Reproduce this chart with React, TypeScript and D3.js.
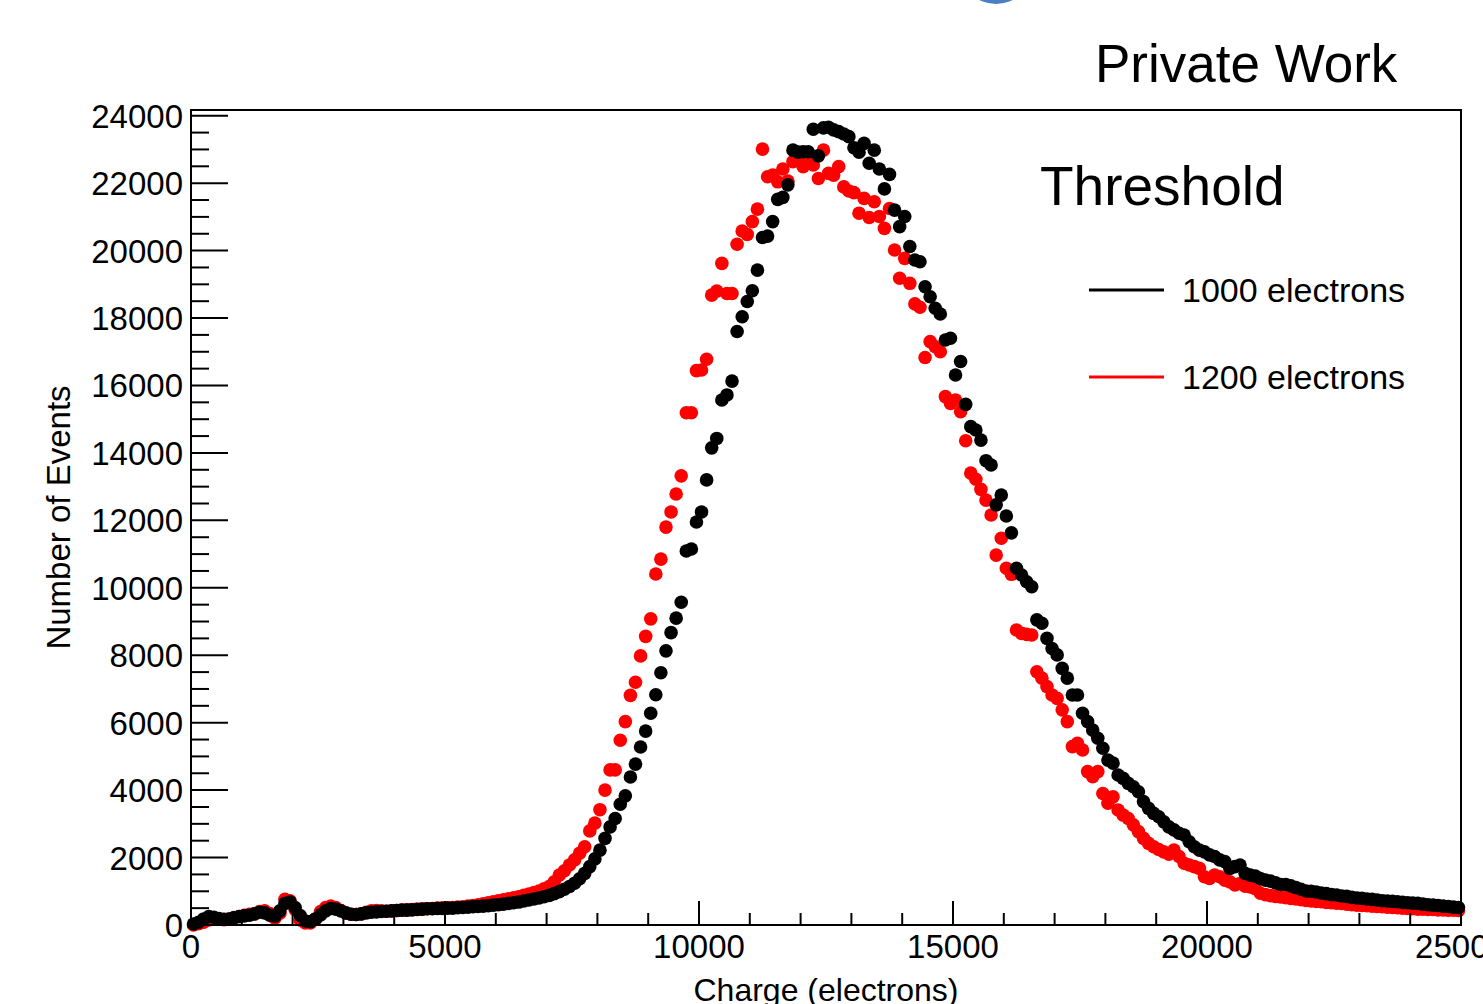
import React from "react";
import * as d3 from "d3";

const binWidth = 100;
const xTickValues = [0, 5000, 10000, 15000, 20000, 25000];
const yTickValues = [0, 2000, 4000, 6000, 8000, 10000, 12000, 14000, 16000, 18000, 20000, 22000, 24000];
const seriesNames = ["1000 electrons", "1200 electrons"];
const seriesColors = ["#000000", "#ff0000"];

const thr1000 = [
  30, 80, 180, 250, 230, 190, 170, 180, 220, 250,
  270, 290, 330, 380, 360, 290, 260, 420, 640, 680,
  520, 280, 120, 100, 180, 300, 420, 490, 470, 420,
  360, 320, 310, 330, 360, 380, 390, 400, 410, 420,
  430, 440, 440, 450, 460, 470, 480, 480, 490, 490,
  500, 500, 510, 520, 530, 540, 550, 560, 570, 590,
  600, 620, 640, 660, 680, 710, 740, 770, 800, 840,
  880, 930, 990, 1060, 1140, 1240, 1370, 1530, 1730, 1960,
  2220, 2570, 2910, 3160, 3580, 3830, 4390, 4770, 5280, 5750,
  6280, 6830, 7480, 8130, 8670, 9100, 9570, 11090, 11150, 11950,
  12250, 13200, 14150, 14430, 15570, 15720, 16130, 17600, 18040, 18490,
  18810, 19420, 20390, 20430, 20860, 21520, 21580, 21950, 22980, 22920,
  22930, 22930, 23600, 22810, 23640, 23660, 23580, 23530, 23460, 23380,
  23050, 22920, 23180, 22590, 22980, 22420, 21830, 22260, 21200, 20710,
  21010, 20120, 19720, 19670, 18930, 18630, 18290, 18120, 17350, 17400,
  16310, 16710, 15440, 14780, 14680, 14380, 13770, 13640, 12460, 12750,
  12130, 11630, 10580, 10380, 10180, 10030, 9050, 8950, 8500, 8200,
  8010, 7610, 7320, 6820, 6820, 6280, 6030, 5780, 5540, 5240,
  4890, 4800, 4450, 4350, 4200, 4100, 3950, 3660, 3460, 3310,
  3210, 3060, 2910, 2820, 2720, 2670, 2470, 2320, 2220, 2170,
  2080, 2030, 1930, 1880, 1680, 1730, 1780, 1530, 1480, 1450,
  1380, 1330, 1300, 1250, 1200, 1200, 1160, 1110, 1060, 1010,
  1000, 980, 950, 930, 900, 890, 860, 850, 820, 800,
  790, 770, 760, 740, 720, 710, 700, 690, 670, 660,
  650, 640, 620, 600, 590, 580, 560, 550, 530, 520,
];

const thr1200 = [
  0, 40, 80, 150, 180, 170, 160, 180, 210, 250,
  290, 320, 330, 400, 420, 340, 200, 350, 760, 720,
  460, 150, 60, 60, 180, 400, 520, 560, 520, 430,
  350, 320, 310, 330, 380, 420, 430, 420, 410, 420,
  430, 440, 450, 460, 470, 470, 480, 490, 500, 510,
  510, 520, 530, 540, 560, 580, 600, 630, 660, 690,
  720, 750, 780, 810, 840, 880, 920, 960, 1010, 1070,
  1140, 1280, 1480, 1610, 1780, 1930, 2130, 2320, 2790, 3020,
  3420, 4000, 4600, 4600, 5480, 6030, 6810, 7200, 7980, 8560,
  9080, 10410, 10850, 11800, 12250, 12780, 13320, 15190, 15190, 16440,
  16460, 16780, 18680, 18800, 19620, 18730, 18730, 20190, 20580, 20480,
  20860, 21230, 23010, 22190, 22240, 22040, 22420, 22060, 22640, 22690,
  22490, 22700, 22540, 22140, 22980, 22290, 22240, 22490, 21890, 21770,
  21720, 21110, 21550, 20980, 21450, 21010, 20660, 21250, 20020, 19180,
  19770, 19030, 18420, 18320, 16830, 17300, 17150, 17000, 15670, 15470,
  15570, 15220, 14360, 13400, 13220, 12920, 12600, 12160, 10970, 11470,
  10580, 10400, 8750, 8650, 8620, 8600, 7510, 7320, 7070, 6820,
  6720, 6380, 6030, 5290, 5390, 5190, 4550, 4400, 4550, 3900,
  3610, 3800, 3410, 3260, 3160, 2970, 2770, 2570, 2420, 2320,
  2240, 2170, 2100, 2220, 2030, 1830, 1780, 1730, 1680, 1430,
  1380, 1480, 1430, 1330, 1280, 1190, 1230, 1150, 1130, 1080,
  940, 900, 870, 850, 830, 810, 790, 770, 750, 730,
  710, 700, 690, 670, 660, 650, 640, 620, 600, 590,
  580, 570, 560, 550, 540, 530, 520, 510, 500, 490,
  480, 470, 470, 460, 460, 450, 450, 440, 440, 430,
];

const FONT = "'Liberation Sans', Arial, Helvetica, sans-serif";

export default function App() {
  const W = 1483, H = 1004;
  const left = 191, right = 1461, top = 110, bottom = 925;
  const x = d3.scaleLinear().domain([0, 25000]).range([left, right]);
  const y = d3.scaleLinear().domain([0, 24170]).range([bottom, top]);

  const xMinor = d3.range(0, 25001, 1000).filter((v) => v % 5000 !== 0);
  const yMinor = d3.range(0, 24001, 500).filter((v) => v % 2000 !== 0);

  const series = [thr1200, thr1000];
  const colorsDrawOrder = [seriesColors[1], seriesColors[0]];

  return (
    <div style={{ position: "absolute", left: 0, top: 0, width: W, height: H, overflow: "hidden", background: "#fff" }}>
      <svg width={W} height={H} style={{ display: "block" }} fontFamily={FONT}>
        <rect x={0} y={0} width={W} height={H} fill="#ffffff" />
        <circle cx={996} cy={-32} r={36} fill="#4a7fc1" />

        <text x={1095} y={82} fontSize={53} fill="#000">Private Work</text>

        {/* data */}
        {series.map((vals, si) => (
          <g key={si} fill={colorsDrawOrder[si]}>
            {vals.map((v, i) => (
              <circle key={i} cx={x((i + 0.5) * binWidth)} cy={y(v)} r={6.8} />
            ))}
          </g>
        ))}

        {/* frame */}
        <rect x={left} y={top} width={right - left} height={bottom - top} fill="none" stroke="#000" strokeWidth={2} />

        {/* y ticks */}
        {yTickValues.map((v) => (
          <g key={"y" + v}>
            <line x1={left} x2={left + 37} y1={y(v)} y2={y(v)} stroke="#000" strokeWidth={2} />
            <text x={183} y={y(v) + 12} fontSize={33} textAnchor="end" fill="#000">{v}</text>
          </g>
        ))}
        {yMinor.map((v) => (
          <line key={"ym" + v} x1={left} x2={left + 18} y1={y(v)} y2={y(v)} stroke="#000" strokeWidth={2} />
        ))}

        {/* x ticks */}
        {xTickValues.map((v) => (
          <g key={"x" + v}>
            <line x1={x(v)} x2={x(v)} y1={bottom} y2={bottom - 24} stroke="#000" strokeWidth={2} />
            <text x={x(v)} y={958} fontSize={33} textAnchor="middle" fill="#000">{v}</text>
          </g>
        ))}
        {xMinor.map((v) => (
          <line key={"xm" + v} x1={x(v)} x2={x(v)} y1={bottom} y2={bottom - 12} stroke="#000" strokeWidth={2} />
        ))}

        {/* axis titles */}
        <text x={(left + right) / 2} y={1001} fontSize={32} textAnchor="middle" fill="#000">Charge (electrons)</text>
        <text transform={`translate(70, ${(top + bottom) / 2}) rotate(-90)`} fontSize={33} textAnchor="middle" fill="#000">Number of Events</text>

        {/* legend */}
        <text x={1040} y={205} fontSize={55} fill="#000">Threshold</text>
        {seriesNames.map((name, i) => (
          <g key={name}>
            <line x1={1089} x2={1164} y1={290 + i * 87} y2={290 + i * 87} stroke={seriesColors[i]} strokeWidth={3} />
            <text x={1182} y={302 + i * 87} fontSize={34} fill="#000">{name}</text>
          </g>
        ))}
      </svg>
    </div>
  );
}
